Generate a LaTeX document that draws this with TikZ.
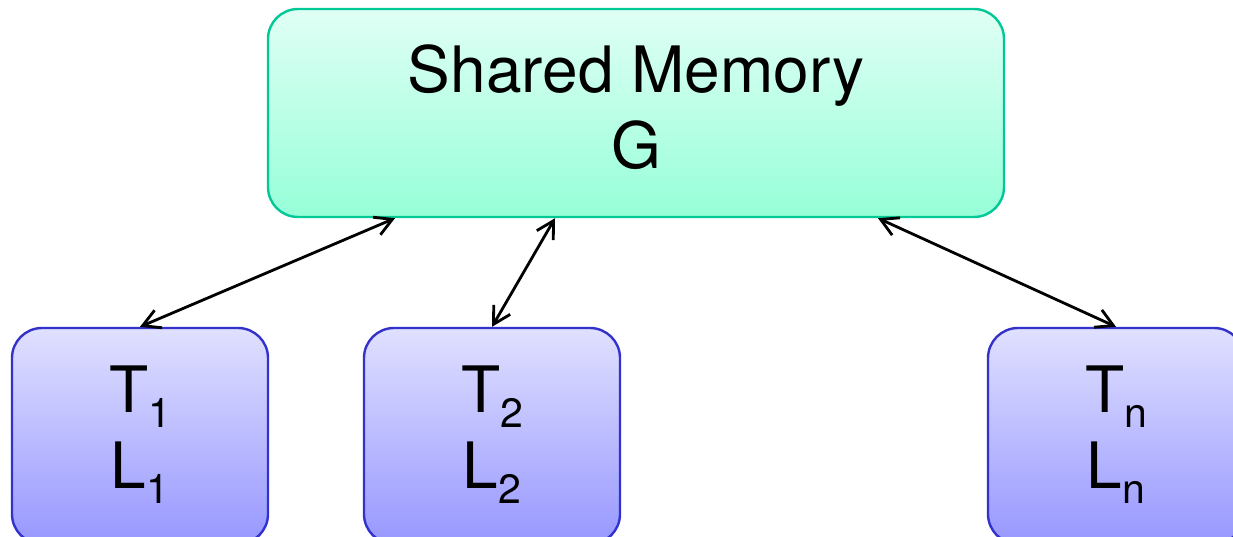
\documentclass[tikz,border=0pt]{standalone}
\usepackage{fontspec}
\setmainfont{TeX Gyre Heros}
\usetikzlibrary{arrows.meta}
\definecolor{mintTop}{HTML}{E0FFF5}
\definecolor{mintBot}{HTML}{96FFD8}
\definecolor{mintLine}{HTML}{00C896}
\definecolor{lavTop}{HTML}{E0E0FF}
\definecolor{lavBot}{HTML}{9797FF}
\definecolor{lavLine}{HTML}{3333CC}
\newcommand\mysub[1]{\raisebox{-15pt}{\fontsize{41}{41}\selectfont #1}}
\tikzset{
  membox/.style={draw=mintLine, line width=2.4pt, rounded corners=30pt, top color=mintTop, bottom color=mintBot, minimum width=736pt, minimum height=208pt, inner sep=0pt},
  thrbox/.style={draw=lavLine, line width=2.4pt, rounded corners=30pt, top color=lavTop, bottom color=lavBot, minimum width=256pt, minimum height=216pt, inner sep=0pt},
  lbl/.style={anchor=base, inner sep=0pt, font=\fontsize{64}{76}\selectfont},
  arr/.style={line width=2.8pt, {Straight Barb[length=17pt,width=19pt]}-{Straight Barb[length=17pt,width=19pt]}}
}
\begin{document}
\begin{tikzpicture}[x=1pt,y=1pt]
\path[use as bounding box] (0,0) rectangle (1233,-536);
\node[membox] (mem) at (636,-113) {};
\node[thrbox] (t1) at (140,-436) {};
\node[thrbox] (t2) at (492,-436) {};
\node[thrbox] (tn) at (1116,-436) {};
\node[lbl] (memA) at (636,-92) {Shared Memory};
\node[lbl] (memB) at (636,-168) {G};
\node[lbl] (t1a) at (140,-412) {T\mysub{1}};
\node[lbl] (t1b) at (140,-488) {L\mysub{1}};
\node[lbl] (t2a) at (492,-412) {T\mysub{2}};
\node[lbl] (t2b) at (492,-488) {L\mysub{2}};
\node[lbl] (tna) at (1116,-412) {T\mysub{n}};
\node[lbl] (tnb) at (1116,-488) {L\mysub{n}};
\draw[arr] ([xshift=-241pt]mem.south) -- (t1.north);
\draw[arr] ([xshift=-81pt]mem.south) -- (t2.north);
\draw[arr] ([xshift=242pt]mem.south) -- (tn.north);
\end{tikzpicture}
\end{document}
